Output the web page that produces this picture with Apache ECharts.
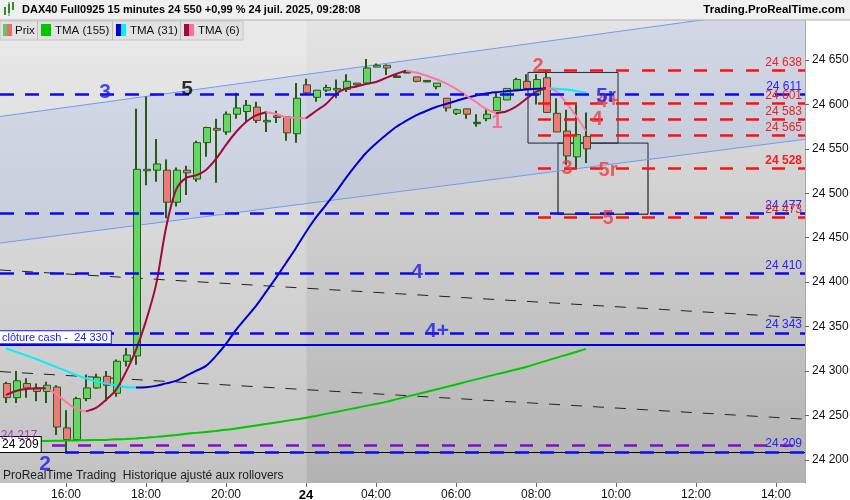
<!doctype html>
<html>
<head>
<meta charset="UTF-8">
<title>DAX40 Full0925 15 minutes</title>
<script src="https://cdn.jsdelivr.net/npm/echarts/dist/echarts.min.js"></script>
<style>
  html, body { margin: 0; padding: 0; background: #fff; }
  #chart { width: 850px; height: 500px; }
</style>
</head>
<body>
<div id="chart"></div>
<script>
// ---- données (bougies 15 min, index k = position) ----
var opens  = [24286,24270,24286,24281,24277,24282,24236,24223,24269,24281,24294,24275,24311,24317,24526,24526,24526,24490,24526,24516,
              24557,24573,24569,24589,24592,24597,24581,24587,24586,24567,24622,24608,24616,24617,24617,24624,24624,24642,24644,24632,
              24637,24631,24627,24620,24607,24590,24595,24580,24584,24593,24605,24617,24626,24611,24630,24590,24570,24541,24564];
var highs  = [24288,24300,24292,24286,24288,24284,24256,24271,24296,24297,24300,24313,24326,24595,24609,24561,24538,24529,24531,24559,
              24575,24584,24592,24613,24605,24603,24592,24593,24587,24624,24629,24616,24622,24628,24634,24624,24651,24646,24645,24633,
              24638,24631,24627,24624,24607,24595,24595,24589,24596,24613,24618,24630,24634,24634,24638,24607,24594,24600,24591];
var lows   = [24264,24264,24270,24266,24264,24228,24209,24222,24266,24280,24266,24271,24305,24307,24509,24513,24472,24485,24498,24513,
              24541,24512,24566,24584,24581,24579,24569,24579,24559,24557,24611,24603,24614,24607,24614,24621,24623,24642,24633,24631,
              24636,24625,24626,24617,24592,24588,24584,24575,24581,24593,24605,24617,24618,24600,24591,24569,24532,24528,24534];
var closes = [24270,24289,24281,24277,24284,24237,24223,24269,24281,24293,24284,24311,24318,24527,24527,24533,24490,24526,24523,24557,
              24574,24571,24589,24596,24599,24582,24582,24586,24568,24607,24613,24616,24619,24618,24626,24622,24641,24644,24641,24632,
              24637,24626,24627,24624,24596,24594,24589,24580,24589,24608,24618,24628,24618,24628,24591,24569,24542,24566,24550];

var tma155 = [24221.4,24221.4,24221.4,24221.4,24221.4,24221.6,24221.7,24221.9,24222.2,24222.4,24222.5,24223.1,24223.6,24224.2,24225.0,
              24225.9,24227.0,24228.1,24229.3,24230.4,24231.5,24232.6,24233.8,24235.4,24237.1,24238.8,24240.5,24242.2,24243.9,24245.6,
              24247.3,24249.5,24251.8,24254.0,24256.3,24258.5,24260.8,24263.0,24265.3,24268.1,24270.9,24273.7,24276.5,24279.3,24282.1,
              24284.9,24287.8,24290.6,24293.4,24296.2,24299.0,24301.8,24304.6,24308.0,24311.4,24314.8,24318.1,24321.5,24324.9];
var tma31  = [24325.4,24321.5,24317.6,24313.6,24309.1,24304.6,24300.1,24295.6,24291.7,24288.3,24286.1,24283.8,24282.1,24281.5,24281.8,
              24283.3,24286.1,24288.9,24294.5,24300.1,24305.8,24317.0,24330.5,24346.3,24359.8,24373.3,24389.0,24404.8,24421.6,24438.5,
              24456.5,24472.8,24486.9,24501.5,24517.3,24531.9,24545.4,24556.1,24565.6,24574.6,24581.4,24587.6,24592.6,24597.1,24600.5,
              24603.9,24607.3,24610.1,24612.3,24613.7,24614.8,24615.8,24616.7,24617.5,24618.1,24617.7,24616.7,24615.1,24613.2];
var tma6   = [24273.1,24277.6,24279.9,24280.4,24280.7,24274.3,24265.3,24257.4,24254.6,24258.5,24267.5,24278.8,24299.0,24323.8,24356.4,
              24396.9,24461.0,24503.8,24517.3,24520.1,24526.3,24538.6,24554.4,24569.0,24580.3,24587.6,24591.2,24589.3,24585.5,24584.8,
              24584.5,24592.6,24600.5,24611.8,24617.9,24620.0,24623.0,24625.3,24629.8,24634.3,24638.0,24636.0,24632.6,24628.6,24623.6,
              24617.4,24610.1,24602.8,24594.9,24590.4,24592.1,24597.5,24606.1,24614.0,24618.5,24615.1,24602.2,24587.0,24570.1];

// niveaux horizontaux
var blueLevels = [24611, 24477, 24410, 24343];
var redLevels  = [24638, 24601, 24583, 24565, 24528, 24473];
var lowBlueLevel = 24209;
var purpleLevel  = 24217;
var cashClose    = 24330;
var lastPrice    = 24550;

// droites obliques [k1, prix1, k2, prix2]
var channelUpper = [-0.6, 24586.4, 79.9, 24711.0];
var channelLower = [-0.6, 24444.0, 79.9, 24560.8];
var blackDash1   = [-0.6, 24413.7, 79.9, 24359.7];
var blackDash2   = [-0.6, 24299.4, 79.9, 24245.8];

// rectangles [k1, prix haut, k2, prix bas]
var boxes = [[52.2, 24636, 61.2, 24556.5], [55.2, 24556.5, 64.2, 24476.5]];

// repères texte [texte, k, prix, groupe]
var marks = [
  ['3', 9.9, 24614, 'blue'], ['5', 18.1, 24617, 'black'], ['4', 41.1, 24411.5, 'blue'], ['4+', 43.1, 24345, 'blue'],
  ['2', 3.9, 24195.5, 'blue'], ['1', 49.1, 24580, 'pink'], ['2', 53.2, 24643, 'red'], ['3', 56.1, 24528, 'red'],
  ['4', 59.1, 24583, 'red'], ['4+', 60.2, 24603, 'red'], ['5r', 60.0, 24609, 'blue'], ['5r', 60.2, 24526, 'red'],
  ['5', 60.2, 24472, 'red']
];

// axe des temps
var timeTicks  = [6, 14, 22, 30, 37, 45, 53, 61, 69, 77];
var timeLabels = ['16:00', '18:00', '20:00', '24', '04:00', '06:00', '08:00', '10:00', '12:00', '14:00'];
var priceTicks = [24200, 24250, 24300, 24350, 24400, 24450, 24500, 24550, 24600, 24650];

var kMin = -0.6, kMax = 79.9, yMin = 24174, yMax = 24695;
var FONT = 'Liberation Sans, Arial, sans-serif';

function fmt(v) {
  var s = String(Math.round(v));
  return s.slice(0, s.length - 3) + ' ' + s.slice(-3);
}

var candleData = opens.map(function (o, i) { return [i, o, closes[i], lows[i], highs[i]]; });

function renderCandle(params, api) {
  var k = api.value(0), o = api.value(1), c = api.value(2), l = api.value(3), h = api.value(4);
  var pO = api.coord([k, o]), pC = api.coord([k, c]), pL = api.coord([k, l]), pH = api.coord([k, h]);
  var w = 7;
  var top = Math.min(pO[1], pC[1]);
  var ht = Math.max(Math.abs(pO[1] - pC[1]), 1.5);
  return {
    type: 'group',
    children: [
      { type: 'line', shape: { x1: pH[0], y1: pH[1], x2: pL[0], y2: pL[1] },
        style: { stroke: '#2a5a18', lineWidth: 2 } },
      { type: 'rect', shape: { x: Math.round(pO[0] - w / 2) + 0.5, y: top, width: w, height: ht },
        style: { fill: c > o ? '#62d862' : (c < o ? '#f07a7a' : '#2a5a18'), stroke: '#2a5a18', lineWidth: 1 } }
    ]
  };
}

function renderChannel(params, api) {
  var a = api.coord([channelUpper[0], channelUpper[1]]);
  var b = api.coord([channelUpper[2], channelUpper[3]]);
  var c = api.coord([channelLower[2], channelLower[3]]);
  var d = api.coord([channelLower[0], channelLower[1]]);
  return {
    type: 'polygon',
    shape: { points: [a, b, c, d] },
    style: { fill: 'rgba(150,175,235,0.22)' }
  };
}

// découpe une moyenne en tronçons montants / descendants
function splitRuns(vals) {
  var out = [], cur = null;
  for (var i = 1; i < vals.length; i++) {
    var up = vals[i] >= vals[i - 1];
    if (!cur || cur.up !== up) {
      cur = { up: up, pts: [[i - 1, vals[i - 1]]] };
      out.push(cur);
    }
    cur.pts.push([i, vals[i]]);
  }
  return out;
}

function maSeries(vals, upColor, downColor, z) {
  return splitRuns(vals).map(function (r) {
    return {
      type: 'line', data: r.pts, showSymbol: false, smooth: 0.3, z: z, silent: true,
      lineStyle: { color: r.up ? upColor : downColor, width: 2 }
    };
  });
}

function trend(seg, color, type, width) {
  return {
    type: 'line', data: [[seg[0], seg[1]], [seg[2], seg[3]]], showSymbol: false, z: 2, silent: true,
    lineStyle: { color: color, width: width, type: type }
  };
}

// lignes horizontales
var lineData = [];
blueLevels.forEach(function (v) {
  lineData.push([{ coord: [kMin, v], lineStyle: { color: '#0a0af0', width: 2.5, type: [14, 11] },
                   label: { show: true, position: 'insideEndTop', formatter: fmt(v), color: '#2424ff', fontSize: 12, fontFamily: FONT, distance: [3, 2] } },
                 { coord: [kMax, v] }]);
});
redLevels.forEach(function (v) {
  lineData.push([{ coord: [53.2, v], lineStyle: { color: '#ff1010', width: 2.5, type: [13, 13] },
                   label: { show: true, position: 'insideEndTop', formatter: fmt(v), color: '#f02020', fontSize: 12, fontFamily: FONT,
                            fontWeight: v === 24528 ? 'bold' : 'normal', distance: [3, 2] } },
                 { coord: [kMax, v] }]);
});
lineData.push([{ coord: [4.6, purpleLevel], lineStyle: { color: '#8010c8', width: 2.5, type: [13, 13] }, label: { show: false } },
               { coord: [kMax, purpleLevel] }]);
lineData.push([{ coord: [kMin, lowBlueLevel], lineStyle: { color: '#000', width: 1.2, type: 'solid' },
                 label: { show: true, position: 'insideStartTop', formatter: fmt(lowBlueLevel), color: '#000', fontSize: 12, fontFamily: FONT,
                          backgroundColor: '#fff', borderColor: '#000', borderWidth: 1, padding: [2, 2, 1, 3], distance: [-1, 0] } },
               { coord: [kMax, lowBlueLevel] }]);
lineData.push([{ coord: [5.9, lowBlueLevel], lineStyle: { color: '#0a0af0', width: 2.5, type: [14, 11] },
                 label: { show: true, position: 'insideEndTop', formatter: fmt(lowBlueLevel), color: '#2424ff', fontSize: 12, fontFamily: FONT, distance: [3, 2] } },
               { coord: [kMax, lowBlueLevel] }]);
lineData.push([{ coord: [kMin, cashClose], lineStyle: { color: '#0000dd', width: 2, type: 'solid' },
                 label: { show: true, position: 'insideStartTop', formatter: 'clôture cash -  ' + fmt(cashClose), color: '#1a1aff', fontSize: 11, fontFamily: FONT,
                          backgroundColor: '#fff', borderColor: '#1a1aff', borderWidth: 1, padding: [1, 3, 0, 3], distance: [-1, 1] } },
               { coord: [kMax, cashClose] }]);
lineData.push([{ coord: [79, lastPrice], lineStyle: { opacity: 0 },
                 label: { show: true, position: 'end', formatter: fmt(lastPrice), color: '#000', fontSize: 12, fontFamily: FONT,
                          backgroundColor: '#ffd21e', borderColor: '#444', borderWidth: 1, padding: [2, 3, 1, 3], distance: 3 } },
               { coord: [kMax, lastPrice] }]);

var boxData = boxes.map(function (b) { return [{ coord: [b[0], b[1]] }, { coord: [b[2], b[3]] }]; });

var markStyle = {
  blue:  { color: '#1c1cf0', fontSize: 21, fontWeight: 'bold' },
  black: { color: '#000',    fontSize: 21, fontWeight: 'bold' },
  red:   { color: '#ee3c3c', fontSize: 20, fontWeight: 'bold' },
  pink:  { color: '#ff5a82', fontSize: 20, fontWeight: 'bold' }
};
var markData = marks.map(function (m) {
  var st = markStyle[m[3]];
  return { value: [m[1], m[2]], label: { show: true, position: 'inside', formatter: m[0], color: st.color,
           fontSize: st.fontSize, fontWeight: st.fontWeight, fontFamily: FONT } };
});

var series = [
  { type: 'custom', renderItem: renderChannel, data: [[0]], z: 1, silent: true, clip: true,
    markArea: { silent: true, itemStyle: { color: 'rgba(255,255,255,0.22)' }, data: [[{ xAxis: kMin }, { xAxis: 30.05 }]] } },
  trend(channelUpper, '#6e9cf5', 'solid', 1),
  trend(channelLower, '#6e9cf5', 'solid', 1),
  trend(blackDash1, '#222', [11, 11], 1),
  trend(blackDash2, '#222', [11, 11], 1),
  { type: 'custom', renderItem: renderCandle, data: candleData, z: 3, silent: true, clip: true,
    encode: { x: 0, y: [1, 2, 3, 4] } }
];
series = series.concat(maSeries(tma155, '#00c800', '#00c800', 4));
series = series.concat(maSeries(tma31, '#0000cc', '#00f0ff', 4));
series = series.concat(maSeries(tma6, '#a00a3c', '#ff78a0', 4));
series.push({
  type: 'line', data: [], z: 6, silent: true,
  markLine: { symbol: ['none', 'none'], silent: true, animation: false, data: lineData },
  markArea: { silent: true, itemStyle: { color: 'rgba(0,0,0,0)', borderColor: '#000', borderWidth: 1 }, data: boxData }
});
series.push({
  type: 'scatter', data: [[1.3, 24227]], symbolSize: 0, z: 5, silent: true,
  label: { show: true, position: 'inside', formatter: fmt(purpleLevel), color: '#9020c0', fontSize: 12, fontFamily: FONT }
});
series.push({ type: 'scatter', data: markData, symbolSize: 0, z: 7, silent: true });

var chart = echarts.init(document.getElementById('chart'), null, { renderer: 'canvas' });
chart.setOption({
  animation: false,
  backgroundColor: '#fff',
  textStyle: { fontFamily: FONT },
  grid: {
    left: 0, right: 45, top: 20, bottom: 17, show: true, borderWidth: 0,
    containLabel: false, outerBoundsMode: 'none',
    backgroundColor: new echarts.graphic.LinearGradient(0, 0, 0, 1, [
      { offset: 0, color: '#e4e4e4' }, { offset: 1, color: '#b2b2b2' }
    ])
  },
  xAxis: {
    type: 'value', min: kMin, max: kMax,
    axisLine: { show: false, onZero: false },
    splitLine: { show: false },
    axisTick: { show: true, customValues: timeTicks, length: 4, lineStyle: { color: '#666' } },
    axisLabel: {
      customValues: timeTicks, color: '#111', fontSize: 12, fontFamily: FONT, margin: 6,
      formatter: function (v) {
        var i = timeTicks.indexOf(Math.round(v));
        if (i < 0) return '';
        return timeLabels[i] === '24' ? '{b|24}' : timeLabels[i];
      },
      rich: { b: { fontWeight: 'bold', fontSize: 13, fontFamily: FONT, color: '#000' } }
    }
  },
  yAxis: {
    type: 'value', position: 'right', min: yMin, max: yMax,
    axisLine: { show: true, onZero: false, lineStyle: { color: '#aaa' } },
    splitLine: { show: false },
    axisTick: { show: true, customValues: priceTicks, length: 4, inside: false, lineStyle: { color: '#666' } },
    axisLabel: { customValues: priceTicks, formatter: fmt, color: '#111', fontSize: 12, fontFamily: FONT, margin: 7 }
  },
  graphic: [
    { type: 'rect', shape: { x: 0, y: 0, width: 850, height: 20 }, style: { fill: '#f0f0f0' }, z: 100 },
    { type: 'line', shape: { x1: 0, y1: 20, x2: 850, y2: 20 }, style: { stroke: '#b0b0b0', lineWidth: 1 }, z: 100 },
    { type: 'rect', shape: { x: 4, y: 7, width: 2, height: 8 }, style: { fill: '#3a8a2a' }, z: 101 },
    { type: 'rect', shape: { x: 8, y: 4, width: 2, height: 9 }, style: { fill: '#3a8a2a' }, z: 101 },
    { type: 'rect', shape: { x: 12, y: 2, width: 2, height: 8 }, style: { fill: '#3a8a2a' }, z: 101 },
    { type: 'line', shape: { x1: 9, y1: 2, x2: 9, y2: 16 }, style: { stroke: '#3a8a2a', lineWidth: 1 }, z: 101 },
    { type: 'text', x: 22, y: 10, z: 101,
      style: { text: 'DAX40 Full0925 15 minutes 24 550 +0,99 % 24 juil. 2025, 09:28:08', font: 'bold 11px ' + FONT, fill: '#000', verticalAlign: 'middle' } },
    { type: 'text', x: 845, y: 10, z: 101,
      style: { text: 'Trading.ProRealTime.com', font: 'bold 11.5px ' + FONT, fill: '#000', align: 'right', verticalAlign: 'middle' } },
    // onglets de légende
    { type: 'rect', shape: { x: 0, y: 21, width: 243, height: 19 }, style: { fill: '#e2e2e2', stroke: '#c4c4c4', lineWidth: 1 }, z: 100 },
    { type: 'line', shape: { x1: 37.5, y1: 21, x2: 37.5, y2: 40 }, style: { stroke: '#bdbdbd' }, z: 101 },
    { type: 'line', shape: { x1: 112.5, y1: 21, x2: 112.5, y2: 40 }, style: { stroke: '#bdbdbd' }, z: 101 },
    { type: 'line', shape: { x1: 180.5, y1: 21, x2: 180.5, y2: 40 }, style: { stroke: '#bdbdbd' }, z: 101 },
    { type: 'rect', shape: { x: 3, y: 24, width: 4, height: 12 }, style: { fill: '#62c862' }, z: 101 },
    { type: 'rect', shape: { x: 7, y: 24, width: 5, height: 12 }, style: { fill: '#e86a6a' }, z: 101 },
    { type: 'text', x: 15, y: 31, z: 101, style: { text: 'Prix', font: '11.5px ' + FONT, fill: '#111', verticalAlign: 'middle' } },
    { type: 'rect', shape: { x: 41, y: 24, width: 10, height: 12 }, style: { fill: '#00c800' }, z: 101 },
    { type: 'text', x: 55, y: 31, z: 101, style: { text: 'TMA (155)', font: '11.5px ' + FONT, fill: '#111', verticalAlign: 'middle' } },
    { type: 'rect', shape: { x: 116, y: 24, width: 5, height: 12 }, style: { fill: '#0000cc' }, z: 101 },
    { type: 'rect', shape: { x: 121, y: 24, width: 5, height: 12 }, style: { fill: '#00f0ff' }, z: 101 },
    { type: 'text', x: 130, y: 31, z: 101, style: { text: 'TMA (31)', font: '11.5px ' + FONT, fill: '#111', verticalAlign: 'middle' } },
    { type: 'rect', shape: { x: 184, y: 24, width: 5, height: 12 }, style: { fill: '#a00a3c' }, z: 101 },
    { type: 'rect', shape: { x: 189, y: 24, width: 5, height: 12 }, style: { fill: '#ff6f9c' }, z: 101 },
    { type: 'text', x: 198, y: 31, z: 101, style: { text: 'TMA (6)', font: '11.5px ' + FONT, fill: '#111', verticalAlign: 'middle' } },
    { type: 'text', x: 3, y: 476, z: 101,
      style: { text: 'ProRealTime Trading  Historique ajusté aux rollovers', font: '12px ' + FONT, fill: '#222', verticalAlign: 'middle' } }
  ],
  series: series
});
</script>
</body>
</html>
